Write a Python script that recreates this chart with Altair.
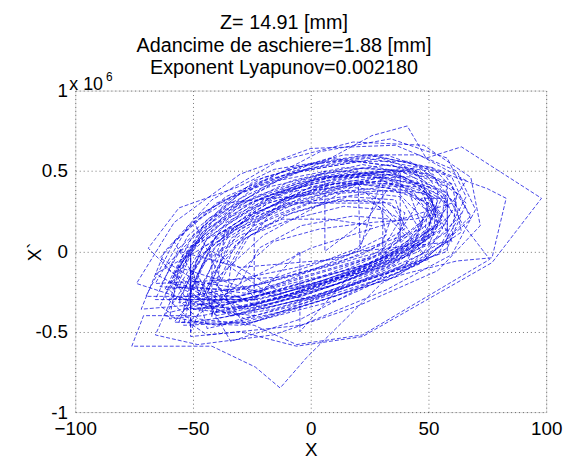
import altair as alt
import pandas as pd

FONT = "Liberation Sans, Arial, Helvetica, sans-serif"

title_lines = ["Z= 14.91 [mm]", "Adancime de aschiere=1.88 [mm]", "Exponent Lyapunov=0.002180"]
x_ticks = [-100, -50, 0, 50, 100]
y_ticks = [-1, -0.5, 0, 0.5, 1]

# trajectory (X, X' in units of 1e6)
m01 = [(-58,-0.14),(-44,0.2),(-18,0.4),(12,0.5),(44,0.46),(58,0.18),(36,-0.08),(2,-0.28),(-34,-0.4)]
m02 = [(-48,-0.3),(-38,0.06),(-8,0.33),(20,0.42),(48,0.36),(52,0.12),(30,-0.1),(-6,-0.22),(-36,-0.32)]
m03 = [(-62,-0.24),(-50,0.1),(-24,0.44),(8,0.58),(40,0.52),(62,0.3),(50,0.0),(12,-0.24),(-28,-0.46)]
m04 = [(-42,-0.16),(-30,0.14),(-6,0.3),(24,0.36),(40,0.24),(36,0.02),(14,-0.12),(-14,-0.22),(-36,-0.3)]
m05 = [(-56,-0.32),(-46,0.02),(-22,0.28),(4,0.46),(34,0.5),(56,0.34),(46,0.04),(16,-0.18),(-20,-0.34)]
m06 = [(-66,-0.2),(-52,0.16),(-30,0.36),(-4,0.5),(30,0.58),(60,0.42),(64,0.12),(36,-0.16),(-8,-0.36),(-44,-0.48)]
m07 = [(-50,-0.12),(-36,0.18),(-12,0.36),(18,0.44),(46,0.4),(54,0.16),(28,-0.06),(-4,-0.2),(-38,-0.34)]
m08 = [(-54,-0.36),(-48,-0.04),(-26,0.22),(0,0.4),(28,0.46),(50,0.3),(48,0.06),(20,-0.14),(-14,-0.3)]
m09 = [(-60,-0.3),(-50,0.04),(-30,0.3),(-2,0.44),(22,0.52),(52,0.48),(60,0.24),(42,-0.02),(8,-0.22),(-26,-0.36)]
m10 = [(-44,-0.26),(-34,0.08),(-14,0.26),(14,0.38),(38,0.34),(46,0.14),(26,-0.04),(-2,-0.16),(-30,-0.28)]
m11 = [(-70,-0.28),(-58,0.06),(-36,0.34),(-8,0.52),(26,0.6),(56,0.5),(68,0.22),(48,-0.06),(12,-0.3),(-30,-0.46),(-58,-0.44)]
m12 = [(-52,-0.18),(-40,0.1),(-18,0.3),(10,0.42),(36,0.44),(52,0.26),(40,0.02),(10,-0.18),(-24,-0.3)]
m13 = [(-58,-0.26),(-51,-0.02),(-51,-0.5),(-40,-0.12),(-22,0.2),(2,0.38),(30,0.46),(50,0.36),(56,0.14),(34,-0.08),(0,-0.26),(-34,-0.4)]
m14 = [(-46,-0.2),(-34,0.12),(-10,0.3),(16,0.4),(42,0.36),(48,0.12),(24,-0.08),(-10,-0.22),(-38,-0.34)]
m15 = [(-64,-0.34),(-54,-0.02),(-34,0.26),(-8,0.44),(22,0.54),(50,0.46),(62,0.2),(44,-0.06),(8,-0.26),(-28,-0.42)]
m16 = [(-50,-0.24),(-42,0.04),(-20,0.24),(6,0.36),(32,0.4),(50,0.3),(44,0.06),(18,-0.12),(-16,-0.28)]
m17 = [(-56,-0.1),(-40,0.22),(-14,0.44),(14,0.52),(44,0.5),(58,0.28),(46,0.0),(12,-0.2),(-26,-0.34),(-50,-0.36)]
m18 = [(-40,-0.22),(-32,0.04),(-12,0.22),(12,0.32),(34,0.3),(42,0.12),(24,-0.04),(-4,-0.16),(-28,-0.26)]
m19 = [(-60,-0.2),(-46,0.14),(-20,0.4),(6,0.56),(26,0.72),(41,0.78),(49,0.58),(64,0.65),(98,0.33),(77,-0.07),(22,-0.53),(-6,-0.59),(-30,-0.5)]
m20 = [(-51,-0.53),(-51,-0.01),(-36,0.2),(-10,0.38),(20,0.48),(46,0.42),(56,0.2),(38,-0.04),(4,-0.22),(-30,-0.36)]
m21 = [(-54,-0.22),(-44,0.08),(-22,0.32),(4,0.46),(32,0.5),(54,0.38),(52,0.1),(24,-0.1),(-12,-0.28),(-42,-0.38)]
m22 = [(-69,0.02),(-56,0.27),(-31,0.40),(-15.5,0.51),(-3,0.54),(24,0.6),(52,0.52),(66,0.3),(58,0.02),(30,-0.2),(-1.7,-0.66),(-13,-0.85),(-23.5,-0.72),(-42,-0.59),(-76,-0.59),(-71,-0.40),(-51,-0.40),(-51,-0.02)]
m23 = [(-44,0.14),(-20,0.34),(8,0.46),(36,0.48),(54,0.32),(48,0.06),(18,-0.14),(-16,-0.3),(-46,-0.4)]
m24 = [(-62,-0.28),(-52,0.0),(-32,0.26),(-6,0.42),(20,0.5),(21,0.02),(30.6,0.48),(30.6,-0.04),(47,0.33),(58,0.33),(58,0.0),(30,-0.14),(-4,-0.3),(-40,-0.42)]
m25 = [(-48,-0.14),(-36,0.12),(-12,0.32),(16,0.42),(42,0.4),(52,0.2),(34,-0.02),(2,-0.2),(-30,-0.3)]
m26 = [(-66,-0.3),(-56,0.02),(-34,0.3),(-6,0.5),(24,0.58),(54,0.5),(75,0.39),(83,0.33),(77,-0.04),(62,-0.06),(40,-0.14),(6,-0.3),(-28,-0.44),(-56,-0.44)]
m27 = [(-52,-0.28),(-44,-0.02),(-24,0.24),(2,0.38),(30,0.44),(52,0.34),(50,0.1),(22,-0.1),(-12,-0.26)]
m28 = [(-42,0.0),(-42,-0.41),(-36,0.16),(-14,0.36),(12,0.46),(40,0.46),(58,0.3),(50,0.04),(16,-0.16),(-4.6,-0.5),(-4.6,0.0),(-24,-0.3),(-50,-0.36)]
m29 = [(-58,-0.18),(-46,0.12),(-24,0.34),(4,0.48),(34,0.54),(58,0.4),(58,0.12),(32,-0.1),(-4,-0.28),(-40,-0.4)]
m30 = [(-46,-0.3),(-38,0.0),(-16,0.22),(10,0.36),(36,0.38),(48,0.2),(32,0.0),(4,-0.16),(-26,-0.3)]
m31 = [(-56,-0.22),(-44,0.08),(-20,0.32),(8,0.46),(38,0.5),(58,0.36),(64,0.18),(76,-0.05),(22,-0.52),(-6,-0.58),(-24,-0.46),(-48,-0.42)]
m32 = [(-60,-0.24),(-48,0.06),(-26,0.3),(0,0.44),(28,0.5),(50,0.4),(54,0.16),(30,-0.06),(-2,-0.24),(-36,-0.38)]
m33 = [(-38,-0.18),(-28,0.08),(-8,0.24),(16,0.34),(36,0.32),(40,0.14),(22,-0.02),(-6,-0.14),(-30,-0.24)]
m34 = [(-64,-0.22),(-52,0.1),(-28,0.38),(0,0.54),(32,0.6),(60,0.46),(68,0.2),(46,-0.08),(10,-0.28),(-24,-0.44),(-54,-0.46)]
m35 = [(-50,-0.2),(-40,0.1),(-18,0.3),(10,0.42),(38,0.42),(50,0.24),(38,0.0),(8,-0.18),(-22,-0.3)]
m36 = [(-56,-0.3),(-46,-0.02),(-26,0.22),(0,0.4),(26,0.48),(48,0.4),(54,0.18),(36,-0.04),(2,-0.22),(-32,-0.36),(-52,-0.32)]
s01 = [(-34,-0.1),(-26,0.1),(-8,0.2),(14,0.28),(30,0.26),(32,0.1),(16,-0.02),(-6,-0.1),(-26,-0.16)]
s02 = [(-30,-0.2),(-22,0.02),(-4,0.16),(18,0.22),(34,0.2),(30,0.04),(10,-0.08),(-12,-0.16)]
s03 = [(-38,-0.06),(-24,0.16),(0,0.3),(24,0.32),(38,0.2),(30,0.0),(6,-0.1),(-20,-0.2)]
s04 = [(-50,-0.3),(-20,0.1),(20,0.42),(40,0.1),(10,-0.05),(-30,-0.1),(-56,0.0),(-10,0.3),(30,0.3),(50,-0.05),(0,-0.3)]
s05 = [(-62,-0.1),(-36,0.3),(4,0.36),(44,0.52),(60,0.06),(20,0.0),(-20,-0.24),(-60,-0.38)]
s06 = [(-24,-0.4),(-24,0.1),(-14,0.3),(6,0.5),(6,0.0),(24,0.2),(38,0.5),(38,0.05),(48,0.2),(40,-0.1),(10,-0.24),(-20,-0.36)]
s07 = [(-64,-0.04),(-46,0.24),(-20,0.44),(12,0.56),(42,0.56),(62,0.36),(60,0.08),(36,-0.14),(-2,-0.32),(-40,-0.46),(-62,-0.4)]
s08 = [(-58,0.06),(-40,0.3),(-10,0.48),(20,0.56),(50,0.5),(64,0.24),(54,-0.02),(20,-0.2),(-16,-0.36),(-50,-0.44)]
s09 = [(-46,-0.08),(-30,0.1),(-12,0.2),(8,0.2),(26,0.16),(20,0.02),(2,-0.08),(-22,-0.2),(-44,-0.3)]
s10 = [(-40,-0.36),(-30,-0.12),(-16,0.06),(4,0.14),(26,0.18),(44,0.2),(56,0.24),(58,0.42),(40,0.52),(10,0.44),(-20,0.26),(-46,0.02),(-66,-0.14)]
s11 = [(-52,-0.44),(-30,-0.2),(0,0.02),(30,0.16),(60,0.3),(66,0.44),(46,0.6),(14,0.6),(-20,0.46),(-50,0.2)]
o01 = [(-72,-0.36),(-62,0.0),(-42,0.32),(-14,0.56),(18,0.68),(48,0.66),(68,0.46),(72,0.16),(54,-0.12),(20,-0.34),(-16,-0.52),(-48,-0.58),(-66,-0.52)]
o02 = [(-60,-0.42),(-56,-0.1),(-44,0.16),(-22,0.42),(4,0.62),(34,0.7),(58,0.58),(66,0.34),(56,0.06),(30,-0.16),(-4,-0.42),(-34,-0.56)]
o03 = [(-74,-0.2),(-58,0.18),(-30,0.48),(0,0.64),(36,0.66),(62,0.5),(70,0.26),(60,-0.02),(32,-0.24),(-4,-0.46),(-44,-0.52)]

loops = [m01, m02, s01, m03, m04, m05, s02, m06, m07, m08, s03, m09, m10, m11,
         s04, m12, o01, m13, m14, s05, m15, m16, m17, s06, m18, m19, m20, s07, m21,
         m22, m23, o02, s08, m24, m25, m26, s09, m27, m28, m29, s10, m30, m31, m32,
         o03, s11, m33, m34, m35, m36]

rows = []
k = 0
for lp in loops:
    for (xv, yv) in lp:
        rows.append({"i": k, "x": xv, "y": yv})
        k += 1
df = pd.DataFrame(rows)

W, H = 476, 325

xaxis = alt.Axis(values=x_ticks, title="X", labelFontSize=19, titleFontSize=19,
                 labelFont=FONT, titleFont=FONT, labelColor="black", titleColor="black",
                 titleFontWeight="normal", labelFlush=False, labelOverlap=False,
                 ticks=False, domain=False, labelPadding=8,
                 grid=True, gridDash=[1, 3], gridColor="#000", gridOpacity=0.55,
                 titleY=44, titleBaseline="alphabetic")
yaxis = alt.Axis(values=y_ticks, title="X`", labelFontSize=19, titleFontSize=19,
                 labelFont=FONT, titleFont=FONT, labelColor="black", titleColor="black",
                 titleFontWeight="normal", labelFlush=False, labelOverlap=False,
                 ticks=False, domain=False, labelPadding=8,
                 labelExpr="datum.value < 0 ? '-' + format(-datum.value, '~g') : format(datum.value, '~g')",
                 grid=True, gridDash=[1, 3], gridColor="#000", gridOpacity=0.55,
                 titleX=-41, titleY=H / 2, titleAngle=270, titleAlign="center",
                 titleBaseline="middle")

line = alt.Chart(df).mark_line(color="#0000e0", strokeWidth=0.85, strokeDash=[4, 2],
                               opacity=0.85, clip=True).encode(
    x=alt.X("x:Q", scale=alt.Scale(domain=[-100, 100], nice=False, zero=False), axis=xaxis),
    y=alt.Y("y:Q", scale=alt.Scale(domain=[-1, 1], nice=False, zero=False), axis=yaxis),
    order="i:Q",
)

ann = pd.DataFrame({"t": ["x 10"]})
mult = alt.Chart(ann).mark_text(font=FONT, fontSize=18, align="left", baseline="middle",
                                color="black").encode(
    x=alt.value(-6), y=alt.value(-6), text="t:N")
sup = alt.Chart(pd.DataFrame({"t": ["6"]})).mark_text(font=FONT, fontSize=12, align="left",
                                                      baseline="middle", color="black").encode(
    x=alt.value(31), y=alt.value(-14), text="t:N")

title_marks = []
for txt, yy in zip(title_lines, [-62, -39, -17]):
    title_marks.append(
        alt.Chart(pd.DataFrame({"t": [txt]})).mark_text(
            font=FONT, fontSize=20, align="center", baseline="alphabetic", color="black"
        ).encode(x=alt.value(211), y=alt.value(yy), text="t:N")
    )

chart = alt.layer(line, mult, sup, *title_marks).properties(
    width=W, height=H,
    autosize=alt.AutoSizeParams(type="none"),
    padding={"left": 68, "top": 81, "right": 18, "bottom": 52},
).configure_view(stroke="#444", strokeWidth=1).configure(background="white")

chart.save("out.html", embed_options={"renderer": "svg", "actions": False})
